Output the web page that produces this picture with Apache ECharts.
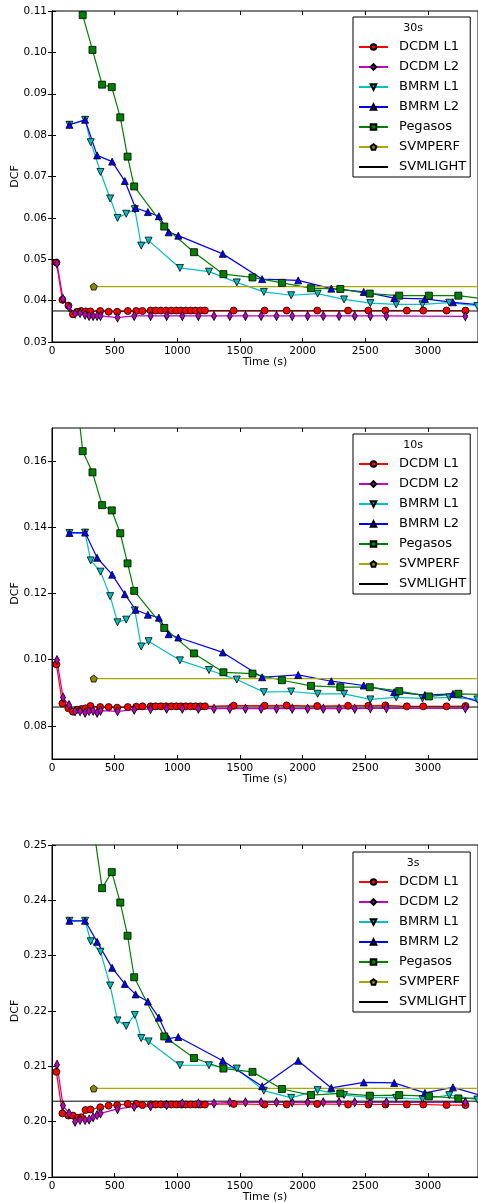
<!DOCTYPE html>
<html><head><meta charset="utf-8">
<script src="https://cdn.jsdelivr.net/npm/echarts@6/dist/echarts.min.js"></script>
<style>html,body{margin:0;padding:0;background:#fff}#c{width:478px;height:1202px}</style>
</head><body><div id="c"></div>
<script>
// ---------- data ----------
const panelTitles = ['30s', '10s', '3s'];
const yMins = [0.03, 0.07, 0.19];
const yMaxs = [0.11, 0.17, 0.25];
const yTicks30 = [0.03, 0.04, 0.05, 0.06, 0.07, 0.08, 0.09, 0.10, 0.11];
const yTicks10 = [0.08, 0.10, 0.12, 0.14, 0.16];
const yTicks3 = [0.19, 0.20, 0.21, 0.22, 0.23, 0.24, 0.25];
const xTicks = [0, 500, 1000, 1500, 2000, 2500, 3000];
const seriesNames = ['DCDM L1', 'DCDM L2', 'BMRM L1', 'BMRM L2', 'Pegasos', 'SVMPERF', 'SVMLIGHT'];

const dcdmL1Time = [35, 83, 131, 167, 200, 233, 268, 307, 385, 452, 520, 605, 672, 722, 787, 827, 869, 911, 952, 992, 1029, 1067, 1107, 1145, 1184, 1221, 1450, 1697, 1873, 2117, 2363, 2525, 2661, 2832, 2963, 3149, 3300];
const dcdmL1_30 = [0.0492, 0.0402, 0.0388, 0.0367, 0.0373, 0.0375, 0.0374, 0.0374, 0.0375, 0.0373, 0.0373, 0.0375, 0.0375, 0.0375, 0.0376, 0.0376, 0.0376, 0.0376, 0.0376, 0.0376, 0.0376, 0.0376, 0.0376, 0.0376, 0.0376, 0.0376, 0.0376, 0.0376, 0.0376, 0.0376, 0.0376, 0.0376, 0.0376, 0.0376, 0.0376, 0.0376, 0.0376];
const dcdmL1_10 = [0.0986, 0.0868, 0.0853, 0.0843, 0.0849, 0.0851, 0.0853, 0.0860, 0.0857, 0.0857, 0.0855, 0.0857, 0.0858, 0.0859, 0.0859, 0.0859, 0.0859, 0.0859, 0.0859, 0.0859, 0.0859, 0.0859, 0.0859, 0.0859, 0.0859, 0.0859, 0.0861, 0.0861, 0.0862, 0.0860, 0.0861, 0.0861, 0.0862, 0.0859, 0.0859, 0.0859, 0.0860];
const dcdmL1_3 = [0.2090, 0.2015, 0.2011, 0.2011, 0.2007, 0.2008, 0.2021, 0.2022, 0.2026, 0.2029, 0.2030, 0.2032, 0.2032, 0.2030, 0.2031, 0.2031, 0.2031, 0.2031, 0.2031, 0.2031, 0.2031, 0.2031, 0.2031, 0.2031, 0.2031, 0.2031, 0.2032, 0.2031, 0.2031, 0.2032, 0.2031, 0.2031, 0.2031, 0.2031, 0.2031, 0.2030, 0.2030];

const dcdmL2Time = [40, 88, 136, 184, 224, 264, 296, 328, 360, 387, 523, 656, 787, 915, 1040, 1168, 1293, 1419, 1544, 1669, 1792, 1917, 2040, 2165, 2291, 2416, 2541, 2669, 3299];
const dcdmL2_30 = [0.0490, 0.0404, 0.0384, 0.0368, 0.0370, 0.0366, 0.0363, 0.0363, 0.0363, 0.0363, 0.0359, 0.0363, 0.0363, 0.0363, 0.0363, 0.0363, 0.0363, 0.0363, 0.0363, 0.0363, 0.0363, 0.0363, 0.0363, 0.0363, 0.0363, 0.0363, 0.0363, 0.0363, 0.0362];
const dcdmL2_10 = [0.0999, 0.0886, 0.0863, 0.0844, 0.0844, 0.0840, 0.0845, 0.0846, 0.0840, 0.0846, 0.0844, 0.0849, 0.0851, 0.0852, 0.0852, 0.0852, 0.0852, 0.0852, 0.0852, 0.0852, 0.0852, 0.0852, 0.0852, 0.0852, 0.0852, 0.0852, 0.0853, 0.0853, 0.0853];
const dcdmL2_3 = [0.2103, 0.2029, 0.2015, 0.2000, 0.2003, 0.2003, 0.2004, 0.2008, 0.2012, 0.2015, 0.2023, 0.2027, 0.2028, 0.2030, 0.2033, 0.2033, 0.2033, 0.2035, 0.2035, 0.2035, 0.2035, 0.2035, 0.2035, 0.2035, 0.2035, 0.2035, 0.2035, 0.2035, 0.2035];

const bmrmL1Time = [139, 264, 309, 387, 464, 523, 592, 661, 712, 771, 1021, 1253, 1475, 1691, 1909, 2120, 2331, 2541, 2747, 2957, 3171, 3395];
const bmrmL1_30 = [0.0825, 0.0837, 0.0783, 0.0711, 0.0647, 0.0600, 0.0610, 0.0621, 0.0533, 0.0545, 0.0479, 0.0470, 0.0444, 0.0421, 0.0413, 0.0417, 0.0403, 0.0394, 0.0391, 0.0391, 0.0395, 0.0387];
const bmrmL1_10 = [0.1383, 0.1384, 0.1300, 0.1266, 0.1192, 0.1113, 0.1121, 0.1149, 0.1040, 0.1056, 0.0998, 0.0969, 0.0940, 0.0902, 0.0904, 0.0897, 0.0897, 0.0880, 0.0886, 0.0883, 0.0886, 0.0880];
const bmrmL1_3 = [0.2363, 0.2363, 0.2326, 0.2307, 0.2246, 0.2183, 0.2173, 0.2193, 0.2151, 0.2145, 0.2102, 0.2102, 0.2096, 0.2056, 0.2043, 0.2057, 0.2048, 0.2044, 0.2043, 0.2041, 0.2048, 0.2040];

const bmrmL2Time = [139, 264, 360, 480, 581, 667, 765, 853, 931, 1008, 1363, 1677, 1965, 2229, 2488, 2731, 2976, 3200, 3440];
const bmrmL2_30 = [0.0825, 0.0837, 0.0751, 0.0736, 0.0689, 0.0624, 0.0614, 0.0604, 0.0565, 0.0557, 0.0513, 0.0452, 0.0449, 0.0429, 0.0421, 0.0406, 0.0404, 0.0396, 0.0389];
const bmrmL2_10 = [0.1383, 0.1384, 0.1308, 0.1257, 0.1198, 0.1151, 0.1136, 0.1127, 0.1077, 0.1067, 0.1022, 0.0947, 0.0954, 0.0935, 0.0922, 0.0902, 0.0893, 0.0897, 0.0869];
const bmrmL2_3 = [0.2363, 0.2363, 0.2325, 0.2278, 0.2249, 0.2230, 0.2217, 0.2188, 0.2150, 0.2153, 0.2110, 0.2064, 0.2110, 0.2061, 0.2071, 0.2070, 0.2052, 0.2062, 0.2046];

const pegasosTime = [167, 245, 323, 400, 477, 545, 603, 656, 896, 1133, 1368, 1600, 1835, 2067, 2301, 2536, 2771, 3008, 3243, 3480];
const pegasos_30 = [0.125, 0.1090, 0.1006, 0.0922, 0.0916, 0.0843, 0.0748, 0.0676, 0.0579, 0.0517, 0.0464, 0.0456, 0.0443, 0.0430, 0.0428, 0.0417, 0.0412, 0.0412, 0.0412, 0.0403];
const pegasos_10 = [0.190, 0.1630, 0.1566, 0.1467, 0.1451, 0.1382, 0.1291, 0.1208, 0.1096, 0.1019, 0.0962, 0.0958, 0.0938, 0.0921, 0.0917, 0.0917, 0.0905, 0.0889, 0.0897, 0.0894];
const pegasos_3 = [0.29, 0.27, 0.2545, 0.2422, 0.2451, 0.2396, 0.2336, 0.2261, 0.2154, 0.2115, 0.2096, 0.2090, 0.2059, 0.2048, 0.2051, 0.2047, 0.2048, 0.2046, 0.2042, 0.2043];

const svmperfTime = [333, 3500];
const svmperfValues = [0.0434, 0.0943, 0.2060];
const svmlightTime = [0, 3500];
const svmlightValues = [0.0375, 0.0857, 0.2037];

// ---------- layout / style ----------
const FONT = 'DejaVu Sans';
const gridTops = [11, 428, 845];
const gridHeights = [331, 331, 332];
const legendTops = [17, 434, 852];
const yTickSets = [yTicks30, yTicks10, yTicks3];
const panelData = [
  [dcdmL1_30, dcdmL2_30, bmrmL1_30, bmrmL2_30, pegasos_30],
  [dcdmL1_10, dcdmL2_10, bmrmL1_10, bmrmL2_10, pegasos_10],
  [dcdmL1_3, dcdmL2_3, bmrmL1_3, bmrmL2_3, pegasos_3]
];
const times = [dcdmL1Time, dcdmL2Time, bmrmL1Time, bmrmL2Time, pegasosTime];
const styles = [
  {line: '#ff0000', fill: '#ff0000', symbol: 'circle', size: 7, rot: 0},
  {line: '#bf00bf', fill: '#bf00bf', symbol: 'diamond', size: [5, 9], rot: 0},
  {line: '#00bfbf', fill: '#00bfbf', symbol: 'triangle', size: 7, rot: 180},
  {line: '#0000ff', fill: '#0000ff', symbol: 'triangle', size: 7, rot: 0},
  {line: '#008000', fill: '#008000', symbol: 'rect', size: 7, rot: 0}
];
const pentagon = 'path://M0,-10 L9.5,-3.1 L5.9,8.1 L-5.9,8.1 L-9.5,-3.1 Z';

const grid = [], xAxis = [], yAxis = [], series = [], legend = [], graphic = [];
const zip = (xs, ys) => xs.map((x, k) => [x, ys[k]]);

for (let p = 0; p < 3; p++) {
  grid.push({left: 52, right: 0, top: gridTops[p], height: gridHeights[p], show: true,
    borderColor: '#000', borderWidth: 1, containLabel: false, outerBoundsMode: 'none'});
  xAxis.push({
    type: 'value', gridIndex: p, min: 0, max: 3400, position: 'bottom',
    name: 'Time (s)', nameLocation: 'middle', nameGap: 15, nameMoveOverlap: false,
    nameTextStyle: {fontFamily: FONT, fontSize: 11, color: '#000'},
    axisLine: {show: true, onZero: false, lineStyle: {color: '#000', width: 1}},
    axisTick: {show: true, inside: true, length: 4, customValues: xTicks, lineStyle: {color: '#000'}},
    axisLabel: {customValues: xTicks, fontFamily: FONT, fontSize: 10.5, color: '#000', margin: 4,
      formatter: v => String(v)},
    splitLine: {show: false}
  });
  xAxis.push({
    type: 'value', gridIndex: p, min: 0, max: 3400, position: 'top',
    axisLine: {show: false},
    axisTick: {show: true, inside: true, length: 4, customValues: xTicks, lineStyle: {color: '#000'}},
    axisLabel: {show: false}, splitLine: {show: false}
  });
  yAxis.push({
    type: 'value', gridIndex: p, min: yMins[p], max: yMaxs[p], position: 'left',
    name: 'DCF', nameLocation: 'middle', nameGap: 31, nameMoveOverlap: false,
    nameTextStyle: {fontFamily: FONT, fontSize: 11, color: '#000'},
    axisLine: {show: true, onZero: false, lineStyle: {color: '#000', width: 1}},
    axisTick: {show: true, inside: true, length: 4, customValues: yTickSets[p], lineStyle: {color: '#000'}},
    axisLabel: {customValues: yTickSets[p], fontFamily: FONT, fontSize: 10.5, color: '#000', margin: 5,
      formatter: v => v.toFixed(2)},
    splitLine: {show: false}
  });
  yAxis.push({
    type: 'value', gridIndex: p, min: yMins[p], max: yMaxs[p], position: 'right',
    axisLine: {show: false},
    axisTick: {show: true, inside: true, length: 4, customValues: yTickSets[p], lineStyle: {color: '#000'}},
    axisLabel: {show: false}, splitLine: {show: false}
  });

  for (let s = 0; s < 5; s++) {
    const st = styles[s];
    series.push({
      type: 'line', name: seriesNames[s], xAxisIndex: 2 * p, yAxisIndex: 2 * p,
      data: zip(times[s], panelData[p][s]),
      symbol: st.symbol, symbolSize: st.size, symbolRotate: st.rot, showAllSymbol: true,
      lineStyle: {color: st.line, width: 1.2},
      itemStyle: {color: st.fill, borderColor: '#000', borderWidth: 0.8},
      emphasis: {disabled: true}, animation: false
    });
  }
  series.push({
    type: 'line', name: 'SVMPERF', xAxisIndex: 2 * p, yAxisIndex: 2 * p,
    data: [{value: [svmperfTime[0], svmperfValues[p]]}, {value: [svmperfTime[1], svmperfValues[p]], symbol: 'none'}],
    symbol: pentagon, symbolSize: 7,
    lineStyle: {color: '#a8a800', width: 1.2},
    itemStyle: {color: '#8a8a00', borderColor: '#000', borderWidth: 0.8},
    emphasis: {disabled: true}, animation: false
  });
  series.push({
    type: 'line', name: 'SVMLIGHT', xAxisIndex: 2 * p, yAxisIndex: 2 * p,
    data: zip(svmlightTime, [svmlightValues[p], svmlightValues[p]]),
    symbol: 'none',
    lineStyle: {color: '#000', width: 1},
    itemStyle: {color: '#000', opacity: 0},
    emphasis: {disabled: true}, animation: false
  });

  legend.push({
    data: seriesNames.map(n => n === 'SVMLIGHT' ? {name: n, itemStyle: {opacity: 0}} : {name: n}),
    orient: 'vertical', left: 353, top: legendTops[p],
    padding: [23, 4, 3, 5], itemGap: 6, itemWidth: 29, itemHeight: 7,
    borderColor: '#000', borderWidth: 1, backgroundColor: '#fff',
    textStyle: {fontFamily: FONT, fontSize: 13, color: '#000', lineHeight: 14, padding: [0, 0, 0, 6]},
    selectedMode: false
  });
  graphic.push({
    type: 'text', x: 413, y: legendTops[p] + 11, z: 100,
    style: {text: panelTitles[p], fontFamily: FONT, fontSize: 11, fill: '#000', align: 'center', verticalAlign: 'middle'}
  });
}

const chart = echarts.init(document.getElementById('c'), null, {renderer: 'canvas'});
chart.setOption({animation: false, backgroundColor: '#fff', grid, xAxis, yAxis, series, legend, graphic});
</script>
</body></html>
